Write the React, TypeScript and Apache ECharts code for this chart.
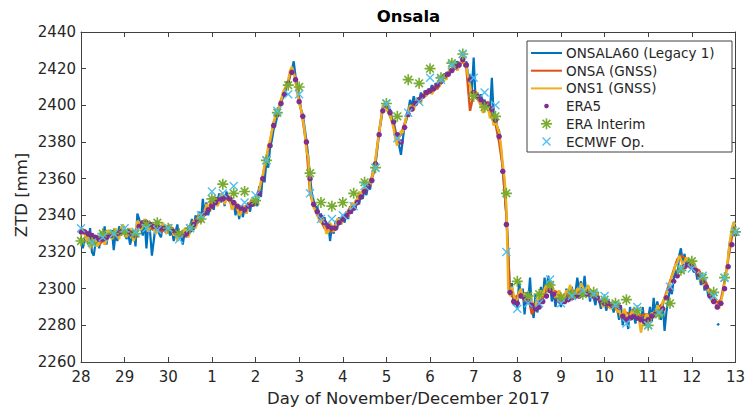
import React, { useEffect, useRef } from "react";
import * as echarts from "echarts";

// x tick labels (day of month), one per day from Nov 28 00:00 (x = 0) to Dec 13 (x = 15)
const dayLabels = ["28", "29", "30", "1", "2", "3", "4", "5", "6", "7", "8", "9", "10", "11", "12", "13"];

// ONSALA60 (Legacy 1): hourly ZTD [mm], starting Nov 28 00:00
const onsala60: (number | null)[] = [
  2328, 2322, 2326, 2330, 2324, 2333, 2320, 2318, 2325, 2329, 2322, 2331, 2327, 2334, 2324, 2330, 2328, 2332, 2321, 2330, 2326, 2334, 2329, 2331,
  2333, 2327, 2330, 2324, 2328, 2332, 2323, 2341, 2338, 2333, 2329, 2337, 2322, 2335, 2331, 2318, 2326, 2334, 2337, 2330, 2328, 2335, 2332, 2330,
  2334, 2329, 2332, 2326, 2331, 2335, 2327, 2330, 2324, 2331, 2328, 2334, 2333, 2338, 2332, 2340, 2337, 2342, 2336, 2349, 2341, 2347, 2340, 2345,
  2348, 2343, 2350, 2346, 2352, 2347, 2351, 2345, 2353, 2348, 2350, 2344, 2347, 2340, 2346, 2338, 2345, 2339, 2344, 2341, 2347, 2342, 2348, 2345,
  2349, 2345, 2356, 2350, 2362, 2358, 2370, 2366, 2377, 2381, 2387, 2390, 2394, 2398, 2401, 2404, 2406, 2410, 2412, 2416, 2419, 2424, 2416, 2410,
  2404, 2398, 2395, 2388, 2381, 2372, 2361, 2352, 2348, 2343, 2345, 2338, 2341, 2335, 2339, 2331, 2336, 2326, 2334, 2330, 2337, 2333, 2339, 2335,
  2340, 2336, 2342, 2338, 2345, 2341, 2346, 2343, 2350, 2346, 2352, 2349, 2355, 2351, 2357, 2354, 2360, 2363, 2368, 2376, 2385, 2391, 2398, 2401,
  2401, 2397, 2398, 2393, 2391, 2386, 2383, 2378, 2373, 2381, 2389, 2392, 2397, 2403, 2399, 2405, 2400, 2404, 2403, 2407, 2404, 2408, 2406, 2409,
  2408, 2411, 2409, 2412, 2411, 2414, 2413, 2416, 2415, 2418, 2417, 2420, 2419, 2421, 2420, 2424, 2422, 2423, 2426, 2421, 2424, 2415, 2417, 2408,
  2426, 2404, 2407, 2402, 2406, 2401, 2403, 2399, 2401, 2397, 2415, 2395, 2393, 2388, 2386, 2376, 2366, 2352, 2340, 2320, 2298, 2303, 2291, 2296,
  2289, 2304, 2295, 2300, 2286, 2298, 2293, 2306, 2289, 2284, 2297, 2287, 2292, 2301, 2294, 2306, 2298, 2307, 2302, 2293, 2299, 2290, 2296, 2293,
  2290, 2296, 2292, 2300, 2294, 2297, 2301, 2295, 2298, 2306, 2299, 2304, 2297, 2307, 2296, 2301, 2293, 2299, 2295, 2291, 2298, 2294, 2289, 2295,
  2293, 2288, 2294, 2290, 2292, 2287, 2293, 2289, 2283, 2291, 2280, 2288, 2285, 2278, 2290, 2283, 2286, 2281, 2289, 2284, 2282, 2290, 2280, 2285,
  2284, 2290, 2282, 2295, 2286, 2293, 2288, 2283, 2292, 2277, 2287, 2294, 2300, 2297, 2305, 2310, 2306, 2318, 2322, 2314, 2319, 2312, 2316, 2313,
  2313, 2309, 2311, 2305, 2308, 2302, 2306, 2299, 2303, 2296, 2299, 2294, null, null, 2280, 2281, null, null, null, null, 2318, 2326, 2329, 2336,
  2336,
];

// ONSA (GNSS): 2-hourly ZTD [mm]
const onsa = [
  2330, 2332, 2327, 2326, 2325, 2324, 2326, 2327, 2330, 2328, 2331, 2332,
  2330, 2332, 2328, 2331, 2335, 2334, 2337, 2333, 2332, 2335, 2331, 2332,
  2334, 2331, 2329, 2328, 2331, 2329, 2333, 2336, 2339, 2337, 2343, 2344,
  2348, 2346, 2350, 2348, 2351, 2347, 2346, 2343, 2342, 2344, 2346, 2348,
  2346, 2354, 2361, 2372, 2380, 2391, 2396, 2403, 2408, 2413, 2420, 2415,
  2403, 2392, 2378, 2352, 2345, 2340, 2337, 2333, 2332, 2331, 2335, 2337,
  2339, 2341, 2344, 2343, 2348, 2352, 2354, 2357, 2361, 2370, 2386, 2399,
  2399, 2394, 2389, 2382, 2384, 2390, 2397, 2400, 2400, 2404, 2404, 2406,
  2407, 2410, 2409, 2412, 2417, 2416, 2420, 2420, 2423, 2424, 2420, 2397,
  2406, 2404, 2400, 2399, 2402, 2395, 2390, 2380, 2366, 2340, 2297, 2295,
  2296, 2299, 2293, 2296, 2286, 2292, 2291, 2295, 2300, 2302, 2299, 2298,
  2295, 2297, 2296, 2298, 2299, 2298, 2300, 2299, 2296, 2297, 2296, 2292,
  2293, 2290, 2292, 2289, 2288, 2284, 2287, 2286, 2289, 2286, 2285, 2286,
  2286, 2284, 2288, 2290, 2292, 2298, 2304, 2310, 2316, 2318, 2317, 2315,
  2313, 2311, 2310, 2306, 2303, 2298, 2296, 2292, 2294, 2304, 2316, 2328,
  2334,
];

// ONS1 (GNSS): hourly ZTD [mm]
const ons1 = [
  2329, 2333, 2330, 2326, 2328, 2322, 2324, 2329, 2327, 2323, 2325, 2330, 2328, 2324, 2326, 2332, 2331, 2327, 2330, 2333, 2329, 2327, 2333, 2335,
  2332, 2328, 2330, 2333, 2329, 2326, 2330, 2337, 2336, 2332, 2335, 2338, 2335, 2331, 2334, 2336, 2333, 2330, 2331, 2334, 2332, 2336, 2334, 2330,
  2332, 2335, 2333, 2329, 2330, 2326, 2329, 2331, 2328, 2333, 2331, 2328, 2331, 2335, 2337, 2333, 2336, 2341, 2340, 2337, 2342, 2346, 2345, 2342,
  2346, 2350, 2348, 2345, 2347, 2352, 2350, 2346, 2349, 2351, 2348, 2343, 2345, 2347, 2344, 2340, 2341, 2345, 2345, 2341, 2344, 2347, 2349, 2346,
  2348, 2350, 2353, 2359, 2362, 2368, 2371, 2378, 2381, 2386, 2390, 2395, 2397, 2399, 2402, 2407, 2409, 2411, 2414, 2419, 2421, 2418, 2413, 2406,
  2401, 2398, 2393, 2386, 2375, 2372, 2355, 2349, 2344, 2343, 2341, 2337, 2336, 2339, 2334, 2330, 2331, 2336, 2334, 2331, 2334, 2338, 2338, 2335,
  2337, 2340, 2342, 2339, 2343, 2347, 2345, 2348, 2349, 2353, 2351, 2354, 2355, 2358, 2358, 2356, 2360, 2365, 2371, 2378, 2385, 2392, 2400, 2401,
  2398, 2396, 2395, 2391, 2387, 2381, 2378, 2383, 2386, 2385, 2389, 2394, 2396, 2400, 2399, 2397, 2402, 2404, 2403, 2401, 2406, 2407, 2405, 2408,
  2409, 2406, 2408, 2411, 2412, 2410, 2413, 2416, 2415, 2414, 2418, 2420, 2418, 2421, 2422, 2419, 2421, 2424, 2426, 2423, 2421, 2415, 2411, 2405,
  2404, 2408, 2406, 2402, 2401, 2396, 2397, 2400, 2398, 2393, 2394, 2389, 2392, 2388, 2385, 2378, 2368, 2360, 2345, 2300, 2296, 2301, 2297, 2293,
  2294, 2298, 2300, 2296, 2297, 2294, 2292, 2296, 2293, 2289, 2291, 2295, 2294, 2299, 2296, 2300, 2302, 2298, 2301, 2304, 2298, 2295, 2296, 2299,
  2297, 2294, 2296, 2299, 2298, 2302, 2299, 2296, 2297, 2300, 2299, 2303, 2301, 2298, 2300, 2302, 2298, 2295, 2296, 2298, 2297, 2293, 2294, 2290,
  2291, 2294, 2293, 2289, 2290, 2293, 2291, 2287, 2289, 2284, 2286, 2289, 2285, 2282, 2284, 2288, 2287, 2285, 2288, 2283, 2276, 2281, 2283, 2286,
  2285, 2282, 2287, 2284, 2286, 2291, 2289, 2287, 2293, 2295, 2297, 2300, 2303, 2307, 2309, 2313, 2314, 2318, 2316, 2313, 2315, 2317, 2314, 2311,
  2312, 2315, 2312, 2309, 2308, 2306, 2305, 2301, 2302, 2299, 2297, 2293, 2294, 2292, 2291, 2289, 2293, 2297, 2303, 2309, 2318, 2326, 2333, 2336,
  2335,
];

// ERA5: 2-hourly ZTD [mm]
const era5 = [
  2331, 2331, 2330, 2329, 2328, 2327, 2327, 2328, 2329, 2329, 2330, 2331,
  2331, 2331, 2330, 2329, 2334, 2336, 2336, 2335, 2334, 2334, 2333, 2333,
  2333, 2332, 2331, 2330, 2329, 2330, 2332, 2335, 2337, 2339, 2341, 2343,
  2345, 2347, 2349, 2349, 2350, 2349, 2347, 2345, 2344, 2343, 2345, 2346,
  2347, 2352, 2360, 2370, 2378, 2389, 2395, 2401, 2406, 2412, 2418, 2414,
  2402, 2394, 2380, 2360, 2346, 2342, 2339, 2336, 2334, 2333, 2333, 2336,
  2338, 2340, 2342, 2344, 2347, 2350, 2353, 2356, 2359, 2368, 2384, 2397,
  2400, 2396, 2391, 2384, 2380, 2388, 2395, 2398, 2401, 2403, 2405, 2407,
  2408, 2409, 2411, 2413, 2416, 2417, 2419, 2421, 2422, 2425, 2422, 2414,
  2407, 2405, 2403, 2401, 2400, 2398, 2392, 2383, 2364, 2335, 2298, 2293,
  2292, 2296, 2295, 2293, 2291, 2289, 2290, 2293, 2296, 2299, 2297, 2294,
  2293, 2293, 2294, 2295, 2296, 2296, 2297, 2297, 2297, 2296, 2295, 2293,
  2292, 2292, 2291, 2291, 2290, 2285, 2283, 2284, 2285, 2284, 2283, 2282,
  2283, 2285, 2286, 2287, 2289, 2295, 2300, 2304, 2307, 2310, 2312, 2313,
  2312, 2310, 2307, 2304, 2301, 2296, 2293, 2290, 2292, 2300, 2312, 2324,
  2330,
];

// ERA Interim: 6-hourly ZTD [mm]
const eraInterim = [
  2326, 2325, 2330, 2330, 2331, 2330, 2335, 2336, 2333, 2330, 2333, 2338,
  2349, 2357, 2352, 2353, 2348, 2370, 2396, 2411, 2410, 2363, 2347, 2345,
  2347, 2352, 2358, 2366, 2401, 2394, 2414, 2412, 2420, 2415, 2423, 2428,
  2405, 2399, 2394, 2352, 2304, 2296, 2297, 2302, 2295, 2297, 2297, 2298,
  2294, 2292, 2294, 2288, 2280, 2286, 2292, 2310, 2315, 2306, 2298, 2306,
  2331,
];

// ECMWF Op.: 6-hourly ZTD [mm]
const ecmwfOp = [
  2333, 2325, 2328, 2330, 2333, 2331, 2333, 2332, 2333, 2327, 2333, 2340,
  2353, 2352, 2356, 2347, 2351, 2370, 2397, 2406, 2406, 2352, 2338, 2338,
  2340, 2345, 2356, 2366, 2401, 2382, 2396, 2402, 2415, 2414, 2422, 2428,
  2415, 2407, 2400, 2320, 2289, 2292, 2292, 2305, 2292, 2296, 2299, 2297,
  2296, 2291, 2281, 2290, 2280, 2287, 2301, 2311, 2311, 2307, 2296, 2306,
  2331,
];

const seriesNames = ["ONSALA60 (Legacy 1)", "ONSA (GNSS)", "ONS1 (GNSS)", "ERA5", "ERA Interim", "ECMWF Op."];
const colors = ["#0072BD", "#D95319", "#EDB120", "#7E2F8E", "#77AC30", "#4DBEEE"];

const FONT = "DejaVu Sans";
const AXIS_COLOR = "#404040";
const TEXT_COLOR = "#262626";

const ASTERISK = "path://M0,-1L0,1M-1,0L1,0M-0.7,-0.7L0.7,0.7M-0.7,0.7L0.7,-0.7";
const CROSS = "path://M-1,-1L1,1M-1,1L1,-1";

function toXY(arr: (number | null)[], perDay: number) {
  return arr.map((v, i) => [i / perDay, v === null ? "-" : v]);
}

export default function App() {
  const ref = useRef<HTMLDivElement>(null);

  useEffect(() => {
    document.body.style.margin = "0";
    if (!ref.current) return;
    const chart = echarts.init(ref.current, undefined, { renderer: "svg" });

    const gridLeft = 81;
    const gridRight = 12;
    const gridTop = 32;
    const gridBottom = 49;

    const xBase = {
      type: "value" as const,
      min: 0,
      max: 15,
      interval: 1,
      splitLine: { show: false },
      axisLine: { show: true, onZero: false, lineStyle: { color: AXIS_COLOR, width: 1 } },
      axisTick: { show: true, inside: true, length: 5, lineStyle: { color: AXIS_COLOR, width: 1 } },
    };
    const yBase = {
      type: "value" as const,
      min: 2260,
      max: 2440,
      interval: 20,
      splitLine: { show: false },
      axisLine: { show: true, onZero: false, lineStyle: { color: AXIS_COLOR, width: 1 } },
      axisTick: { show: true, inside: true, length: 5, lineStyle: { color: AXIS_COLOR, width: 1 } },
    };

    const legendX = 527;
    const legendY = 41;
    const rowY = [53, 70.7, 88.4, 106.1, 123.8, 141.5];
    const sampleX1 = 531;
    const sampleX2 = 562;
    const markX = 546.5;
    const textX = 566;

    const legendElems: any[] = [
      {
        type: "rect",
        shape: { x: legendX, y: legendY, width: 205, height: 111 },
        style: { fill: "#ffffff", stroke: AXIS_COLOR, lineWidth: 1 },
        z: 100,
      },
    ];
    for (let i = 0; i < 3; i++) {
      legendElems.push({
        type: "line",
        shape: { x1: sampleX1, y1: rowY[i], x2: sampleX2, y2: rowY[i] },
        style: { stroke: colors[i], lineWidth: 2 },
        z: 101,
      });
    }
    legendElems.push({
      type: "circle",
      shape: { cx: markX, cy: rowY[3], r: 2.3 },
      style: { fill: colors[3] },
      z: 101,
    });
    const ar = 5.5;
    const ad = 3.9;
    [
      [0, -ar, 0, ar],
      [-ar, 0, ar, 0],
      [-ad, -ad, ad, ad],
      [-ad, ad, ad, -ad],
    ].forEach((s) => {
      legendElems.push({
        type: "line",
        shape: { x1: markX + s[0], y1: rowY[4] + s[1], x2: markX + s[2], y2: rowY[4] + s[3] },
        style: { stroke: colors[4], lineWidth: 1.6 },
        z: 101,
      });
    });
    const cr = 4;
    [
      [-cr, -cr, cr, cr],
      [-cr, cr, cr, -cr],
    ].forEach((s) => {
      legendElems.push({
        type: "line",
        shape: { x1: markX + s[0], y1: rowY[5] + s[1], x2: markX + s[2], y2: rowY[5] + s[3] },
        style: { stroke: colors[5], lineWidth: 1.3 },
        z: 101,
      });
    });
    seriesNames.forEach((n, i) => {
      legendElems.push({
        type: "text",
        x: textX,
        y: rowY[i],
        style: {
          text: n,
          fill: TEXT_COLOR,
          font: `13.5px "${FONT}"`,
          textAlign: "left",
          textVerticalAlign: "middle",
        },
        z: 101,
      });
    });

    const plotCenterX = gridLeft + (748 - gridLeft - gridRight) / 2;

    const option: any = {
      animation: false,
      backgroundColor: "#ffffff",
      grid: { left: gridLeft, right: gridRight, top: gridTop, bottom: gridBottom, containLabel: false },
      xAxis: [
        {
          ...xBase,
          position: "bottom",
          axisLabel: {
            show: true,
            color: TEXT_COLOR,
            fontSize: 15,
            fontFamily: FONT,
            margin: 7,
            showMinLabel: true,
            showMaxLabel: true,
            formatter: (v: number) => dayLabels[Math.round(v)] ?? "",
          },
        },
        { ...xBase, position: "top", axisLabel: { show: false } },
      ],
      yAxis: [
        {
          ...yBase,
          position: "left",
          axisLabel: {
            show: true,
            color: TEXT_COLOR,
            fontSize: 15,
            fontFamily: FONT,
            margin: 5,
            showMinLabel: true,
            showMaxLabel: true,
            formatter: (v: number) => String(v),
          },
        },
        { ...yBase, position: "right", axisLabel: { show: false } },
      ],
      series: [
        {
          name: seriesNames[0],
          type: "line",
          data: toXY(onsala60, 24),
          symbol: "none",
          connectNulls: false,
          lineStyle: { color: colors[0], width: 2.2 },
          itemStyle: { color: colors[0] },
          z: 2,
        },
        {
          name: seriesNames[1],
          type: "line",
          data: toXY(onsa, 12),
          symbol: "none",
          lineStyle: { color: colors[1], width: 2.4 },
          itemStyle: { color: colors[1] },
          z: 3,
        },
        {
          name: seriesNames[2],
          type: "line",
          data: toXY(ons1, 24),
          symbol: "none",
          lineStyle: { color: colors[2], width: 2.4 },
          itemStyle: { color: colors[2] },
          z: 4,
        },
        {
          name: seriesNames[3],
          type: "scatter",
          data: toXY(era5, 12),
          symbol: "circle",
          symbolSize: 5.5,
          itemStyle: { color: colors[3], opacity: 1 },
          z: 5,
        },
        {
          name: seriesNames[4],
          type: "scatter",
          data: toXY(eraInterim, 4),
          symbol: ASTERISK,
          symbolSize: 11,
          itemStyle: { color: colors[4], borderColor: colors[4], borderWidth: 1.6, opacity: 1 },
          z: 6,
        },
        {
          name: seriesNames[5],
          type: "scatter",
          data: toXY(ecmwfOp, 4),
          symbol: CROSS,
          symbolSize: 8,
          itemStyle: { color: colors[5], borderColor: colors[5], borderWidth: 1.3, opacity: 1 },
          z: 7,
        },
      ],
      graphic: [
        {
          type: "text",
          x: plotCenterX,
          y: 16,
          style: {
            text: "Onsala",
            fill: "#000000",
            font: `bold 16.5px "${FONT}"`,
            textAlign: "center",
            textVerticalAlign: "middle",
          },
          z: 100,
        },
        {
          type: "text",
          x: plotCenterX,
          y: 398,
          style: {
            text: "Day of November/December 2017",
            fill: TEXT_COLOR,
            font: `16.5px "${FONT}"`,
            textAlign: "center",
            textVerticalAlign: "middle",
          },
          z: 100,
        },
        {
          type: "text",
          x: 21,
          y: 195,
          rotation: Math.PI / 2,
          style: {
            text: "ZTD [mm]",
            fill: TEXT_COLOR,
            font: `16.5px "${FONT}"`,
            textAlign: "center",
            textVerticalAlign: "middle",
          },
          z: 100,
        },
        ...legendElems,
      ],
    };

    chart.setOption(option);
    return () => {
      chart.dispose();
    };
  }, []);

  return <div ref={ref} style={{ width: 748, height: 411 }} />;
}
